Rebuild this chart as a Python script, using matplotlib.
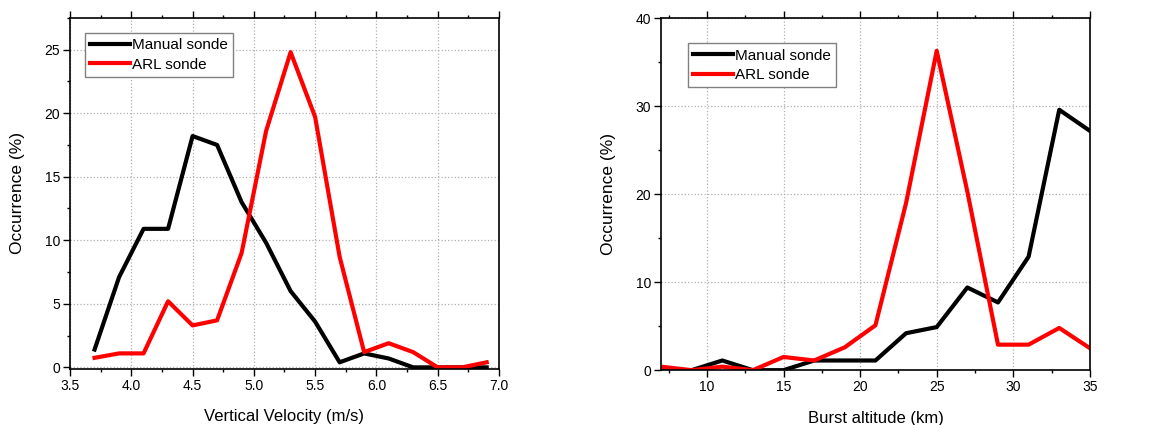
import matplotlib.pyplot as plt
from matplotlib.ticker import MultipleLocator

plt.rcParams['font.family'] = ['Liberation Sans', 'DejaVu Sans']

# Left panel: vertical velocity distribution
vel = [3.7, 3.9, 4.1, 4.3, 4.5, 4.7, 4.9, 5.1, 5.3, 5.5, 5.7, 5.9, 6.1, 6.3, 6.5, 6.7, 6.9]
vel_manual = [1.4, 7.1, 10.9, 10.9, 18.2, 17.5, 13.0, 9.8, 6.0, 3.6, 0.4, 1.1, 0.7, 0.0, 0.0, 0.0, 0.0]
vel_arl = [0.75, 1.1, 1.1, 5.2, 3.3, 3.7, 9.0, 18.6, 24.8, 19.7, 8.7, 1.2, 1.9, 1.2, 0.0, 0.0, 0.4]

# Right panel: burst altitude distribution
alt = [7, 9, 11, 13, 15, 17, 19, 21, 23, 25, 27, 29, 31, 33, 35]
alt_manual = [0.0, 0.0, 1.1, 0.0, 0.0, 1.1, 1.1, 1.1, 4.2, 4.9, 9.4, 7.7, 12.9, 29.6, 27.2]
alt_arl = [0.4, 0.0, 0.4, 0.0, 1.5, 1.1, 2.6, 5.1, 19.0, 36.3, 20.3, 2.9, 2.9, 4.8, 2.5]

fig = plt.figure(figsize=(11.56, 4.25), dpi=100)
ax1 = fig.add_axes([0.0606, 0.132, 0.371, 0.826])
ax2 = fig.add_axes([0.5718, 0.129, 0.371, 0.828])


def style(ax, xmaj, xmin, ymaj, ymin):
    ax.xaxis.set_major_locator(MultipleLocator(xmaj))
    ax.xaxis.set_minor_locator(MultipleLocator(xmin))
    ax.yaxis.set_major_locator(MultipleLocator(ymaj))
    ax.yaxis.set_minor_locator(MultipleLocator(ymin))
    ax.tick_params(which='both', direction='out', top=True, right=False,
                   labelsize=10, width=1, pad=2)
    ax.tick_params(which='major', length=5)
    ax.tick_params(which='minor', length=2.5)
    ax.grid(True, which='major', linestyle=':', color='#b0b0b0', linewidth=0.9)
    for s in ax.spines.values():
        s.set_linewidth(1.2)
    ax.set_ylabel('Occurrence (%)', fontsize=12.5, labelpad=14)


def add_legend(ax, anchor):
    ax.legend(loc='upper left', bbox_to_anchor=anchor, fontsize=11,
              fancybox=False, edgecolor='#808080', framealpha=1,
              handlelength=2.6, handletextpad=0.1, borderpad=0.35,
              labelspacing=0.35, borderaxespad=0)


ax1.plot(vel, vel_manual, color='black', lw=3, label='Manual sonde')
ax1.plot(vel, vel_arl, color='#ff0000', lw=3, label='ARL sonde')
ax1.set_xlim(3.5, 7.0)
ax1.set_ylim(-0.12, 27.5)
style(ax1, 0.5, 0.25, 5, 2.5)
ax1.set_xlabel('Vertical Velocity (m/s)', fontsize=12, labelpad=12)
ax1.xaxis.set_major_formatter(plt.FormatStrFormatter('%.1f'))
add_legend(ax1, (0.035, 0.957))

ax2.plot(alt, alt_manual, color='black', lw=3, label='Manual sonde')
ax2.plot(alt, alt_arl, color='#ff0000', lw=3, label='ARL sonde')
ax2.set_xlim(7, 35)
ax2.set_ylim(0, 40)
style(ax2, 5, 2.5, 10, 5)
ax2.set_xlabel('Burst altitude (km)', fontsize=12, labelpad=12)
add_legend(ax2, (0.063, 0.929))

fig.savefig('out.png', dpi=100)
